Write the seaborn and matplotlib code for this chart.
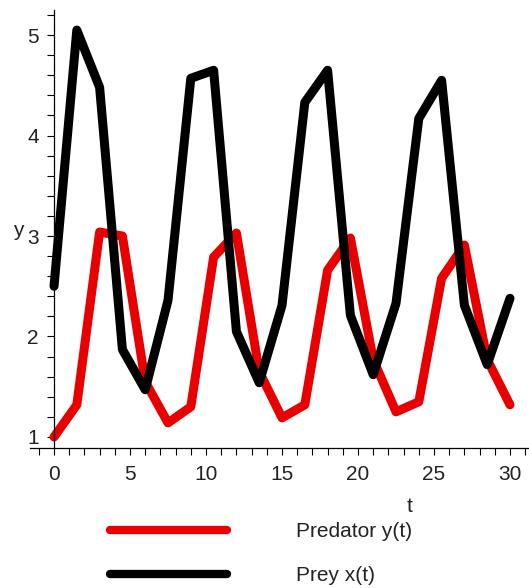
import pandas as pd
import matplotlib.pyplot as plt
import seaborn as sns
from matplotlib.ticker import MultipleLocator

# data
t = [0, 1.5, 3, 4.5, 6, 7.5, 9, 10.5, 12, 13.5, 15,
     16.5, 18, 19.5, 21, 22.5, 24, 25.5, 27, 28.5, 30]
prey = [2.50, 5.05, 4.48, 1.87, 1.47, 2.36, 4.57, 4.65, 2.05, 1.54, 2.31,
        4.33, 4.65, 2.21, 1.62, 2.33, 4.17, 4.55, 2.31, 1.72, 2.38]
predator = [1.00, 1.32, 3.04, 3.00, 1.55, 1.14, 1.30, 2.79, 3.03, 1.65, 1.19,
            1.32, 2.66, 2.98, 1.77, 1.25, 1.35, 2.58, 2.91, 1.77, 1.32]
names = ['Predator y(t)', 'Prey x(t)']
colors = ['#e80000', '#000000']
x_ticks = [0, 5, 10, 15, 20, 25, 30]
y_ticks = [1, 2, 3, 4, 5]

df = pd.DataFrame({
    't': t + t,
    'value': predator + prey,
    'series': [names[0]] * len(t) + [names[1]] * len(t),
})

sns.set_style("ticks")
plt.rcParams['font.family'] = ['Liberation Sans', 'DejaVu Sans']

fig = plt.figure(figsize=(5.29, 5.88), dpi=100)
ax = fig.add_axes([30 / 529, 140 / 588, 499 / 529, 438 / 588])

sns.lineplot(data=df, x='t', y='value', hue='series', hue_order=names,
             palette=dict(zip(names, colors)), linewidth=6.5, ax=ax,
             solid_joinstyle='round', solid_capstyle='round')

ax.set_xlim(-1.58, 31.25)
ax.set_ylim(0.89, 5.25)

# maple style axes: y axis at t=0, x axis at the bottom
for s in ['top', 'right']:
    ax.spines[s].set_visible(False)
ax.spines['left'].set_position(('data', 0))
for s in ['left', 'bottom']:
    ax.spines[s].set_color('black')
    ax.spines[s].set_linewidth(0.9)

ax.set_xticks(x_ticks)
ax.set_yticks(y_ticks)
ax.xaxis.set_minor_locator(MultipleLocator(1))
ax.yaxis.set_minor_locator(MultipleLocator(0.2))
ax.tick_params(which='both', direction='out', color='black', width=0.8,
               bottom=True, left=True, top=False, right=False)
ax.tick_params(which='major', length=5, labelsize=15, labelcolor='#222222')
ax.tick_params(which='minor', length=5)
ax.tick_params(axis='x', which='major', pad=7)
ax.tick_params(axis='y', which='major', pad=6)
ax.set_xlabel('')
ax.set_ylabel('')

fig.text(18 / 529, 1 - 231 / 588, 'y', fontsize=15, color='#222222',
         ha='center', va='center')
fig.text(410 / 529, 1 - 506 / 588, 't', fontsize=15, color='#222222',
         ha='center', va='center')

handles, labels = ax.get_legend_handles_labels()
ax.legend(handles, labels, loc='upper left', bbox_to_anchor=(110 / 529, 1 - 522 / 588),
          bbox_transform=fig.transFigure, frameon=False, fontsize=15,
          handlelength=5.6, handletextpad=3.35, labelspacing=1.19,
          borderpad=0, borderaxespad=0, labelcolor='#222222')
for line in ax.get_legend().get_lines():
    line.set_linewidth(6)

fig.savefig('out.png', dpi=100)
